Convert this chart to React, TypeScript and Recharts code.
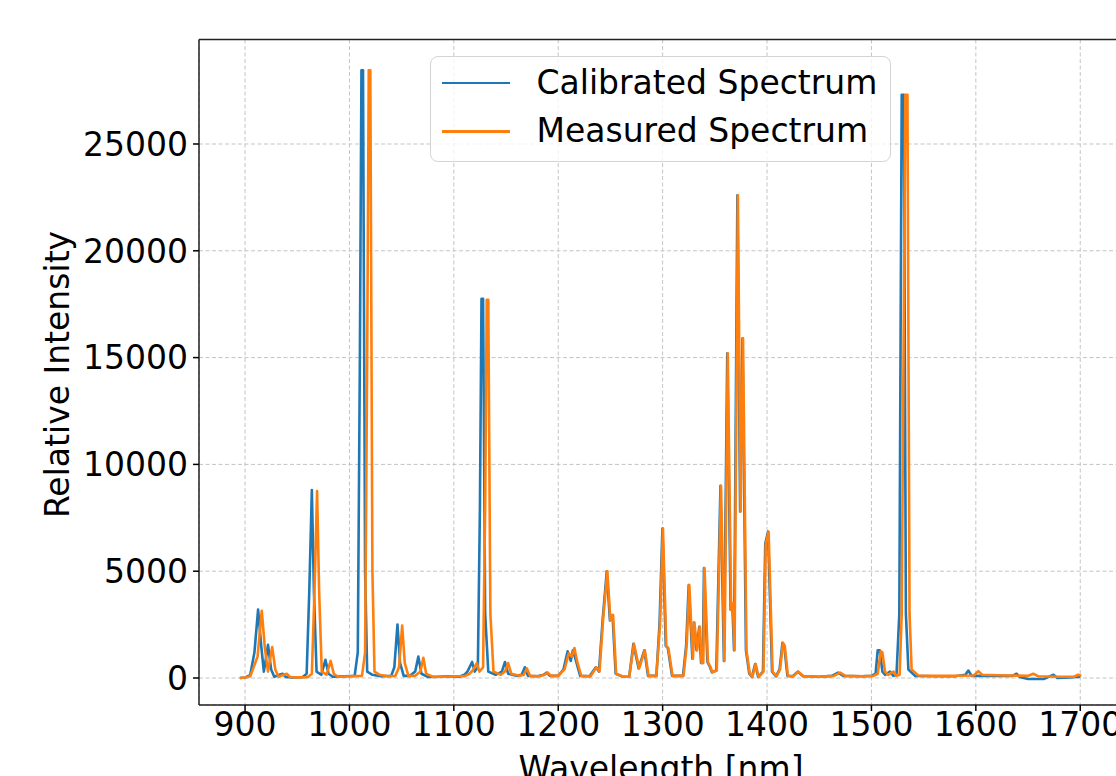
import { LineChart, Line, XAxis, YAxis, CartesianGrid, ReferenceLine, Legend } from "recharts";

// ─── Data ────────────────────────────────────────────────────────────────────

const calWl = [
  895, 900, 905, 909, 912.5, 915.5, 918, 922, 925, 928, 933, 936, 939, 945, 955,
  959, 961.5, 964, 966, 968.5, 973, 977, 980, 984, 995,
  1005, 1008, 1010, 1011.5, 1013, 1015, 1017, 1022, 1030,
  1040, 1043, 1046, 1048.5, 1052, 1058, 1063, 1066, 1069, 1075, 1085, 1095,
  1105, 1110, 1113, 1117.5, 1120, 1123, 1125, 1126.5, 1128, 1130, 1133, 1140,
  1146, 1149, 1152, 1160, 1165, 1168, 1171, 1180, 1186, 1189, 1192, 1200,
  1205, 1209, 1212, 1214, 1217, 1221, 1230, 1236, 1239, 1242.5, 1246.5, 1249.5, 1252, 1255, 1262,
  1268, 1272, 1277, 1282.5, 1286, 1294, 1297, 1299.8, 1303, 1305, 1309, 1319.5,
  1322.5, 1325, 1328.5, 1329.9, 1332.5, 1335.1, 1336.8, 1338.4, 1339.6, 1342.9, 1345, 1347.2, 1351.4,
  1355.4, 1358.7, 1361.9, 1365.1, 1366.7, 1368.4, 1371.6, 1374.2, 1376.5, 1379.8, 1383, 1385.5, 1388.6, 1391.5,
  1396.1, 1398.3, 1401, 1404.8, 1408.5, 1412, 1414.8, 1416.5, 1419.5, 1424.5, 1429.5, 1434.5,
  1450, 1462, 1468, 1473, 1490, 1500, 1504, 1506, 1508, 1510.5, 1513, 1517.8, 1521, 1524,
  1526.7, 1529, 1531, 1533, 1535.4, 1541.8, 1560, 1580, 1590, 1592.8, 1596, 1620, 1635, 1639, 1642,
  1650, 1665, 1674.3, 1678, 1690, 1700,
];
const calInt = [
  0, 20, 150, 1200, 3200, 1500, 300, 1550, 400, 60, 150, 200, 50, 30, 40,
  200, 4000, 8800, 4000, 300, 150, 850, 200, 60, 80,
  100, 1200, 15000, 28450, 28450, 5000, 300, 150, 80,
  100, 500, 2500, 700, 100, 100, 300, 1000, 200, 50, 60, 80,
  60, 150, 300, 750, 300, 500, 8000, 17750, 17750, 3000, 300, 150,
  300, 750, 200, 100, 150, 500, 100, 80, 150, 250, 100, 100,
  400, 1250, 800, 1300, 800, 100, 80, 500, 300, 2700, 5000, 2700, 2950, 200, 60,
  60, 1600, 450, 1300, 100, 100, 2500, 7000, 1500, 1400, 100, 100,
  1500, 4350, 900, 2600, 1300, 2400, 700, 700, 5150, 750, 550, 270, 350,
  9000, 800, 15200, 3200, 3500, 1300, 22600, 7800, 15900, 1300, 200, 50, 650, 50,
  300, 6300, 6850, 300, 80, 400, 1650, 1500, 100, 80, 300, 80,
  60, 100, 250, 100, 80, 100, 200, 1300, 1300, 300, 150, 300, 100, 150,
  3000, 27300, 27300, 3000, 400, 100, 80, 80, 150, 350, 100, 100, 100, 200, 50,
  -50, -50, 150, 0, 20, 60,
];

const measWl = [
  895, 900, 905, 912, 916, 919, 922, 926, 929, 932, 937, 940, 943, 950, 960,
  964, 966.5, 969, 971, 973.5, 978, 982, 985, 989, 1000,
  1012, 1015, 1017, 1018.5, 1020, 1022, 1024, 1029, 1037,
  1044, 1047.5, 1050.5, 1053, 1056.5, 1063, 1068, 1070.8, 1073.5, 1080, 1090, 1100,
  1110, 1115, 1118, 1122, 1124.5, 1128, 1130, 1131.5, 1133, 1135, 1138, 1145,
  1149, 1152, 1155, 1163, 1167, 1170, 1173, 1182, 1187, 1190, 1193, 1200,
  1206, 1210, 1213, 1215.5, 1218, 1222, 1231, 1236.5, 1239.5, 1243, 1247, 1250, 1252.5, 1255.5, 1262,
  1268, 1272.5, 1277.5, 1283, 1286.5, 1294, 1297.5, 1300.3, 1303.5, 1305.5, 1309.5, 1320,
  1323, 1325.5, 1329, 1330.4, 1333, 1335.6, 1337.3, 1338.9, 1340.1, 1343.4, 1345.5, 1347.7, 1351.9,
  1355.9, 1359.2, 1362.4, 1365.6, 1367.2, 1368.9, 1372.1, 1374.7, 1377, 1380.3, 1383.5, 1386, 1389.1, 1392,
  1396.6, 1398.8, 1401.5, 1405.3, 1409, 1412.5, 1415.3, 1417, 1420, 1425, 1430, 1435,
  1450, 1464, 1470, 1475, 1492, 1502, 1506, 1508.9, 1510.5, 1513, 1516, 1521, 1524, 1527,
  1529, 1532.5, 1534.5, 1536.5, 1538.5, 1544.8, 1570, 1598, 1602.4, 1606, 1630, 1650, 1655, 1660,
  1680, 1694, 1698, 1701,
];
const measInt = [
  0, 20, 80, 1000, 3150, 1400, 300, 1450, 400, 60, 150, 200, 50, 30, 40,
  200, 4000, 8750, 4000, 300, 150, 800, 200, 60, 80,
  100, 1200, 15000, 28450, 28450, 5000, 300, 150, 80,
  100, 500, 2450, 700, 100, 100, 300, 950, 200, 50, 60, 80,
  80, 200, 350, 700, 300, 500, 8000, 17700, 17700, 3000, 300, 150,
  300, 700, 200, 100, 150, 450, 100, 80, 150, 250, 100, 100,
  400, 1150, 1000, 1400, 800, 100, 80, 500, 300, 2750, 5000, 2700, 2950, 200, 60,
  60, 1600, 450, 1300, 100, 100, 2500, 7000, 1500, 1400, 100, 100,
  1500, 4350, 900, 2600, 1300, 2400, 700, 700, 5150, 750, 550, 270, 350,
  9000, 800, 15200, 3200, 3500, 1300, 22600, 7800, 15900, 1300, 200, 50, 650, 50,
  300, 6300, 6850, 300, 80, 400, 1650, 1500, 100, 80, 300, 80,
  60, 100, 250, 100, 80, 100, 200, 1250, 1200, 300, 150, 300, 100, 150,
  3000, 27300, 27300, 3000, 400, 120, 100, 120, 320, 150, 120, 100, 200, 80,
  60, 60, 150, 100,
];

const seriesNames = ["Calibrated Spectrum", "Measured Spectrum"];
const seriesColors = ["#1f77b4", "#ff7f0e"];

const xTicks = [900, 1000, 1100, 1200, 1300, 1400, 1500, 1600, 1700];
const yTicks = [0, 5000, 10000, 15000, 20000, 25000];

const calData = calWl.map((wl, i) => ({ wl, v: calInt[i] }));
const measData = measWl.map((wl, i) => ({ wl, v: measInt[i] }));

const FONT = "DejaVu Sans";
const Y_MIN = -1264;
const Y_MAX = 29892;

function LegendBox() {
  return (
    <div
      style={{
        position: "relative",
        width: 461,
        height: 106,
        boxSizing: "border-box",
        border: "1.5px solid #d4d4d4",
        borderRadius: 8,
        background: "rgba(255,255,255,0.8)",
        fontFamily: FONT,
        fontSize: 33,
        lineHeight: "38px",
        color: "#000",
      }}
    >
      {seriesNames.map((name, i) => (
        <div key={name}>
          <div
            style={{
              position: "absolute",
              left: 11,
              top: 24.5 + i * 48.5,
              width: 68,
              height: 2.6,
              background: seriesColors[i],
            }}
          />
          <div style={{ position: "absolute", left: 105.5, top: 7 + i * 48, whiteSpace: "nowrap" }}>
            {name}
          </div>
        </div>
      ))}
    </div>
  );
}

export default function App() {
  return (
    <div style={{ position: "fixed", left: 0, top: 0, width: 1116, height: 776, overflow: "hidden", background: "#fff" }}>
      <LineChart width={1130} height={820} margin={{ top: 39.5, right: 8, left: 0, bottom: 63 }}>
        <CartesianGrid stroke="#c4c4c4" strokeDasharray="4 2.5" strokeWidth={1} />
        <XAxis
          dataKey="wl"
          type="number"
          domain={[855.9, 1740]}
          ticks={xTicks}
          interval={0}
          allowDataOverflow
          height={52}
          tickSize={6}
          tickMargin={2}
          tick={{ fontSize: 33, fill: "#000", fontFamily: FONT }}
          tickLine={{ stroke: "#000", strokeWidth: 1.5 }}
          axisLine={{ stroke: "#222", strokeWidth: 1.5 }}
          label={{
            content: () => (
              <text x={661} y={780} textAnchor="middle" fontSize={33} fontFamily={FONT} fill="#000">
                Wavelength [nm]
              </text>
            ),
          }}
        />
        <YAxis
          type="number"
          domain={[Y_MIN, Y_MAX]}
          ticks={yTicks}
          interval={0}
          allowDataOverflow
          width={199}
          tickSize={6}
          tickMargin={5}
          tick={{ fontSize: 33, fill: "#000", fontFamily: FONT }}
          tickLine={{ stroke: "#000", strokeWidth: 1.5 }}
          axisLine={{ stroke: "#222", strokeWidth: 1.5 }}
          label={{
            content: () => (
              <text
                x={69}
                y={374.5}
                transform="rotate(-90 69 374.5)"
                textAnchor="middle"
                fontSize={33}
                fontFamily={FONT}
                fill="#000"
              >
                Relative Intensity
              </text>
            ),
          }}
        />
        <ReferenceLine y={Y_MAX} stroke="#222" strokeWidth={1.5} />
        <Legend
          layout="horizontal"
          verticalAlign="middle"
          align="center"
          wrapperStyle={{ left: 430, top: 56, width: 461, height: 106 }}
          content={() => <LegendBox />}
        />
        <Line
          data={calData}
          dataKey="v"
          name={seriesNames[0]}
          type="linear"
          stroke={seriesColors[0]}
          strokeWidth={2.6}
          strokeLinejoin="round"
          dot={false}
          activeDot={false}
          isAnimationActive={false}
        />
        <Line
          data={measData}
          dataKey="v"
          name={seriesNames[1]}
          type="linear"
          stroke={seriesColors[1]}
          strokeWidth={2.6}
          strokeLinejoin="round"
          dot={false}
          activeDot={false}
          isAnimationActive={false}
        />
      </LineChart>
    </div>
  );
}
